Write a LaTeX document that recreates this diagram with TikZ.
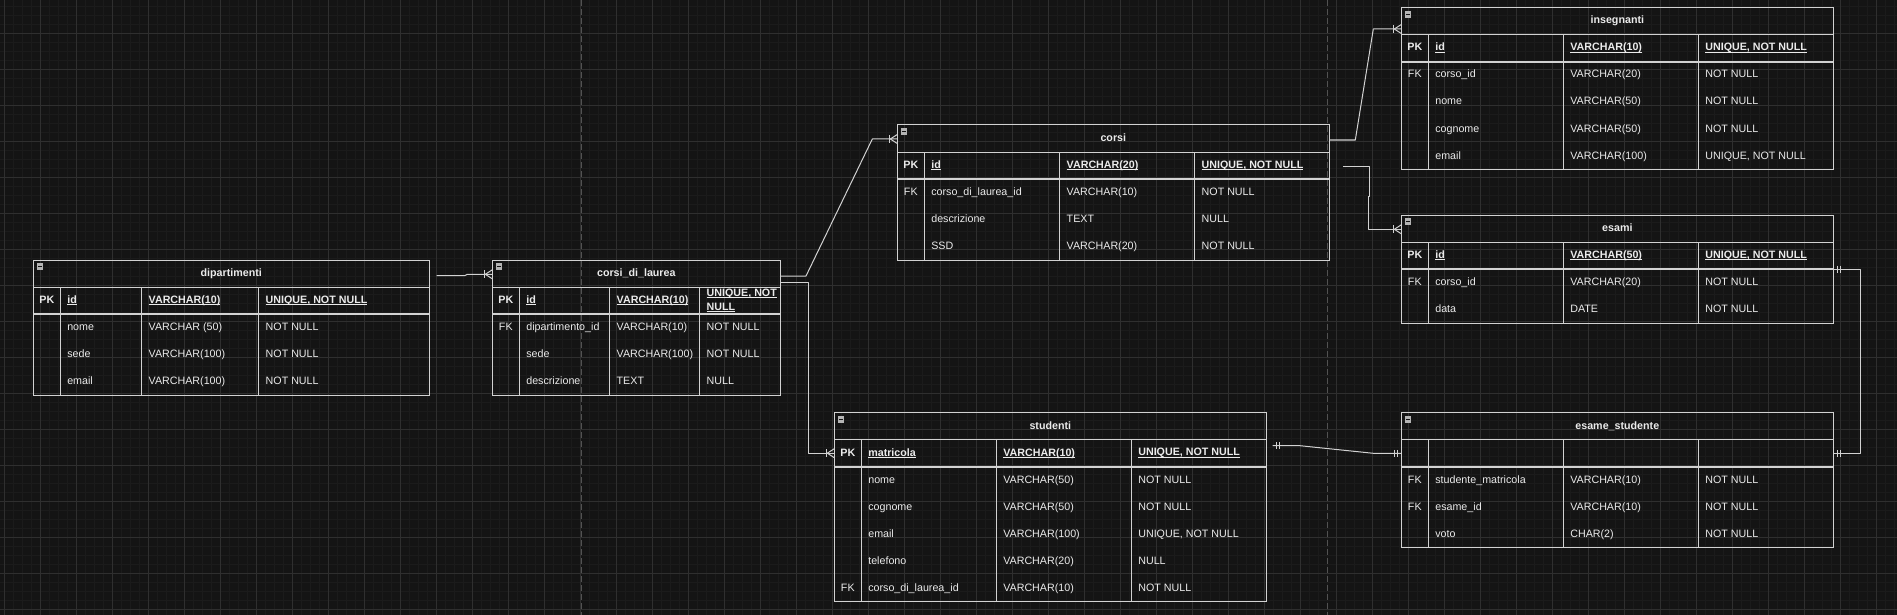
\documentclass[tikz,border=0pt]{standalone}
\usepackage{fontspec}
\setmainfont{Liberation Sans}
\usetikzlibrary{calc}
\definecolor{bgc}{HTML}{141414}
\definecolor{minorc}{HTML}{1B1B1B}
\definecolor{majorc}{HTML}{2F2F2F}
\definecolor{pagec}{HTML}{525252}
\definecolor{linec}{HTML}{D2D2D2}
\definecolor{textc}{HTML}{EBEBEB}
\definecolor{iconc}{HTML}{B4B4B4}

\newcommand\ulx[1]{\setbox0\hbox{#1}\rlap{\vrule height -0.7pt depth 1.7pt width \wd0}\box0}

\tikzset{
  tablebox/.style={draw=linec, line width=1pt, inner sep=0pt, outer sep=0pt, anchor=north west, rectangle},
  tline/.style={draw=linec, line width=1pt},
  pkline/.style={draw=linec, line width=1.8pt},
  cellfont/.style={font=\fontsize{10.7}{13.3}\selectfont},
  titletext/.style={text=textc, font=\fontsize{10.7}{13.3}\selectfont\bfseries, inner sep=0pt, text height=8pt, text depth=2.4pt},
  celltext/.style={text=textc, cellfont, inner sep=0pt, anchor=west, align=left, text height=8pt, text depth=2.4pt},
  keytext/.style={text=textc, cellfont, inner sep=0pt, text height=8pt, text depth=2.4pt},
  pktext/.style={font=\fontsize{10.7}{13.3}\selectfont\bfseries},
  conn/.style={draw=linec, line width=1pt, line join=round},
  crowfoot/.pic={\draw[conn] (0,-4.5) -- (-7,0) -- (0,4.5); \draw[conn] (-7.5,-4) -- (-7.5,4);},
  mandone/.pic={\draw[conn] (-4,-3.5) -- (-4,3.5) (-7,-3.5) -- (-7,3.5);}
}

% name, x, y, w1, w2, w3, body rows, title
\newcommand\ertable[8]{%
  \pgfmathsetmacro\ertw{27+#4+#5+#6}%
  \pgfmathsetmacro\erth{27*(#7+1)}%
  \node[tablebox, minimum width=\ertw pt, minimum height=\erth pt] (#1) at (#2,#3) {};
  \coordinate (#1-k) at ($(#1.north west)+(13.5,27)$);
  \coordinate (#1-c1) at ($(#1.north west)+(27,27)$);
  \coordinate (#1-c2) at ($(#1-c1)+(#4,0)$);
  \coordinate (#1-c3) at ($(#1-c2)+(#5,0)$);
  \draw[tline] ($(#1.north west)+(0,27)$) -- ($(#1.north east)+(0,27)$);
  \draw[pkline] ($(#1.north west)+(0,54)$) -- ($(#1.north east)+(0,54)$);
  \draw[tline] (#1-c1) -- (#1-c1 |- #1.south);
  \draw[tline] (#1-c2) -- (#1-c2 |- #1.south);
  \draw[tline] (#1-c3) -- (#1-c3 |- #1.south);
  \node[titletext] (#1-title) at ($(#1.north)+(0,13.5)$) {#8};
  \fill[iconc] ($(#1.north west)+(3.4,3.4)$) rectangle ++(6.7,6.7);
  \draw[bgc, line width=1.2pt] ($(#1.north west)+(4.7,6.75)$) -- ++(4.1,0);
}
% table, key, name, type, constraint
\newcommand\pkrow[5]{%
  \node[keytext, pktext] (#1-k0) at ($(#1-k)+(0,13.5)$) {#2};
  \node[celltext, pktext] (#1-n0) at ($(#1-c1)+(6.8,13.5)$) {\ulx{#3}};
  \node[celltext, pktext] (#1-t0) at ($(#1-c2)+(6.8,13.5)$) {\ulx{#4}};
  \node[celltext, pktext, text height={}, text depth={}] (#1-x0) at ($(#1-c3)+(6.8,13.5)$) {#5};
}
% table, index, key, name, type, constraint
\newcommand\erow[6]{%
  \node[keytext] (#1-k#2) at ($(#1-k)+(0,13.5+27*#2)$) {#3};
  \node[celltext] (#1-n#2) at ($(#1-c1)+(6.8,13.5+27*#2)$) {#4};
  \node[celltext] (#1-t#2) at ($(#1-c2)+(6.8,13.5+27*#2)$) {#5};
  \node[celltext] (#1-x#2) at ($(#1-c3)+(6.8,13.5+27*#2)$) {#6};
}

\begin{document}
\begin{tikzpicture}[x=1pt,y=-1pt]
\useasboundingbox (0,0) rectangle (1897,615);
\fill[bgc] (0,0) rectangle (1897,615);
\begin{scope}
  \clip (0,0) rectangle (1897,615);
  \foreach \i in {0,...,210} \draw[minorc, line width=1pt] ({4.3+9*\i},0) -- ++(0,615);
  \foreach \j in {0,...,68} \draw[minorc, line width=1pt] (0,{6.3+9*\j}) -- ++(1897,0);
  \foreach \i in {0,...,52} \draw[majorc, line width=1pt] ({4.3+36*\i},0) -- ++(0,615);
  \foreach \j in {0,...,16} \draw[majorc, line width=1pt] (0,{33.3+36*\j}) -- ++(1897,0);
  \draw[pagec, dash pattern=on 6pt off 3pt, line width=1pt] (581.7,0) -- (581.7,615);
  \draw[pagec, dash pattern=on 6pt off 3pt, line width=1pt] (1327,0) -- (1327,615);
\end{scope}

% tables
\ertable{dip}{33.3}{260}{81.4}{117}{170.6}{4}{dipartimenti}
\pkrow{dip}{PK}{id}{VARCHAR(10)}{\ulx{UNIQUE, NOT NULL}}
\erow{dip}{1}{}{nome}{VARCHAR (50)}{NOT NULL}
\erow{dip}{2}{}{sede}{VARCHAR(100)}{NOT NULL}
\erow{dip}{3}{}{email}{VARCHAR(100)}{NOT NULL}

\ertable{cdl}{492.3}{260}{90.4}{90}{80.6}{4}{corsi\_di\_laurea}
\pkrow{cdl}{PK}{id}{VARCHAR(10)}{\ulx{UNIQUE, NOT}\\\ulx{NULL}}
\erow{cdl}{1}{FK}{dipartimento\_id}{VARCHAR(10)}{NOT NULL}
\erow{cdl}{2}{}{sede}{VARCHAR(100)}{NOT NULL}
\erow{cdl}{3}{}{descrizione}{TEXT}{NULL}

\ertable{cor}{897.3}{125}{135.4}{135}{134.6}{4}{corsi}
\pkrow{cor}{PK}{id}{VARCHAR(20)}{\ulx{UNIQUE, NOT NULL}}
\erow{cor}{1}{FK}{corso\_di\_laurea\_id}{VARCHAR(10)}{NOT NULL}
\erow{cor}{2}{}{descrizione}{TEXT}{NULL}
\erow{cor}{3}{}{SSD}{VARCHAR(20)}{NOT NULL}

\ertable{ins}{1401.3}{7.7}{135}{135}{135}{5}{insegnanti}
\pkrow{ins}{PK}{id}{VARCHAR(10)}{\ulx{UNIQUE, NOT NULL}}
\erow{ins}{1}{FK}{corso\_id}{VARCHAR(20)}{NOT NULL}
\erow{ins}{2}{}{nome}{VARCHAR(50)}{NOT NULL}
\erow{ins}{3}{}{cognome}{VARCHAR(50)}{NOT NULL}
\erow{ins}{4}{}{email}{VARCHAR(100)}{UNIQUE, NOT NULL}

\ertable{esa}{1401.3}{215}{135}{135}{135}{3}{esami}
\pkrow{esa}{PK}{id}{VARCHAR(50)}{\ulx{UNIQUE, NOT NULL}}
\erow{esa}{1}{FK}{corso\_id}{VARCHAR(20)}{NOT NULL}
\erow{esa}{2}{}{data}{DATE}{NOT NULL}

\ertable{est}{1401.3}{412.7}{135}{135}{135}{4}{esame\_studente}
\erow{est}{1}{FK}{studente\_matricola}{VARCHAR(10)}{NOT NULL}
\erow{est}{2}{FK}{esame\_id}{VARCHAR(10)}{NOT NULL}
\erow{est}{3}{}{voto}{CHAR(2)}{NOT NULL}

\ertable{stu}{834.3}{412.7}{135}{135}{135}{6}{studenti}
\pkrow{stu}{PK}{matricola}{VARCHAR(10)}{\ulx{UNIQUE, NOT NULL}}
\erow{stu}{1}{}{nome}{VARCHAR(50)}{NOT NULL}
\erow{stu}{2}{}{cognome}{VARCHAR(50)}{NOT NULL}
\erow{stu}{3}{}{email}{VARCHAR(100)}{UNIQUE, NOT NULL}
\erow{stu}{4}{}{telefono}{VARCHAR(20)}{NULL}
\erow{stu}{5}{FK}{corso\_di\_laurea\_id}{VARCHAR(10)}{NOT NULL}

% connectors
\coordinate (e1s) at ($(dip.north east)+(7.4,15.7)$);
\coordinate (e1e) at ($(cdl.north west)+(0,14.3)$);
\draw[conn] (e1s) -- ++(28,0) -- ++(2.5,-1.4) -- (e1e);
\pic at (e1e) {crowfoot};

\coordinate (e2s) at ($(cdl.north east)+(0,16)$);
\coordinate (e2e) at ($(cor.north west)+(0,14)$);
\draw[conn] (e2s) -- ++(25.7,0) -- ($(e2e)+(-25,0)$) -- (e2e);
\pic at (e2e) {crowfoot};

\coordinate (e3s) at ($(cdl.north east)+(0,22.3)$);
\coordinate (e3e) at ($(stu.north west)+(0,40.5)$);
\draw[conn] (e3s) -- ++(28,0) |- (e3e);
\pic at (e3e) {crowfoot};

\coordinate (e4s) at ($(cor.north east)+(0,15)$);
\coordinate (e4e) at ($(ins.north west)+(0,21.3)$);
\draw[conn] (e4s) -- ++(26,0) -- ($(e4e)+(-28,0)$) -- (e4e);
\pic at (e4e) {crowfoot};

\coordinate (e5s) at ($(cor.north east)+(14,41.7)$);
\coordinate (e5e) at ($(esa.north west)+(0,14.3)$);
\draw[conn] (e5s) -- ++(26.5,0) -- ++(0,30) -- ++(-1.8,0) |- (e5e);
\pic at (e5e) {crowfoot};

\coordinate (e6s) at ($(stu.north east)+(6.4,33)$);
\coordinate (e6e) at ($(est.north west)+(0,40.6)$);
\draw[conn] (e6s) -- ++(27.3,0) -- ($(e6e)+(-28,0)$) -- (e6e);
\pic[xscale=-1] at (e6s) {mandone};
\pic at (e6e) {mandone};

\coordinate (e7s) at ($(esa.north east)+(0,54)$);
\coordinate (e7e) at ($(est.north east)+(0,40.6)$);
\draw[conn] (e7s) -- ++(26.7,0) |- (e7e);
\pic[xscale=-1] at (e7s) {mandone};
\pic[xscale=-1] at (e7e) {mandone};
\end{tikzpicture}
\end{document}
